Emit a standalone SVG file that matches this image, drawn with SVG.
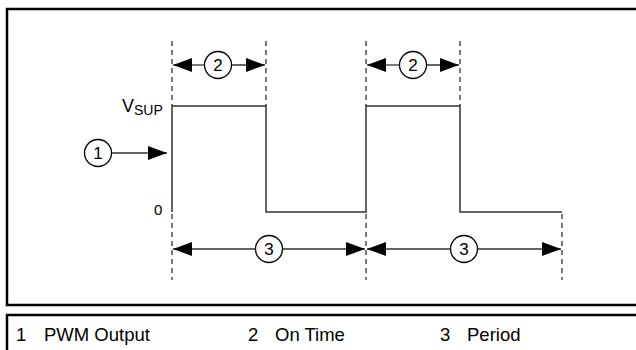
<svg xmlns="http://www.w3.org/2000/svg" width="636" height="350" viewBox="0 0 636 350">
<style>
.frame{fill:none;stroke:#000;stroke-width:2.5}
.dash{stroke:#222;stroke-width:1.2;stroke-dasharray:5,4;fill:none}
.wave{stroke:#333;stroke-width:1.5;fill:none}
.dim{stroke:#333;stroke-width:1.3;fill:none}
.callout{fill:#fff;stroke:#000;stroke-width:1.3}
.num{font-family:"Liberation Sans",Arial,sans-serif;font-size:17px;fill:#000;text-anchor:middle}
.lbl{font-family:"Liberation Sans",Arial,sans-serif;fill:#000}
.leg{font-family:"Liberation Sans",Arial,sans-serif;font-size:18.5px;fill:#000}
</style>
<defs>
<marker id="ah" markerWidth="19" markerHeight="14" refX="19" refY="7" orient="auto-start-reverse" markerUnits="userSpaceOnUse">
<path d="M0,0 L19,7 L0,14 Z" fill="#000"/>
</marker>
</defs>
<rect class="frame" x="7" y="9" width="640" height="296"/>
<rect class="frame" x="7" y="315" width="640" height="50"/>
<g id="guides">
<line class="dash" x1="172" y1="41" x2="172" y2="106"/>
<line class="dash" x1="266" y1="41" x2="266" y2="106"/>
<line class="dash" x1="366" y1="41" x2="366" y2="106"/>
<line class="dash" x1="460" y1="41" x2="460" y2="106"/>
<line class="dash" x1="172" y1="214" x2="172" y2="280"/>
<line class="dash" x1="366" y1="214" x2="366" y2="280"/>
<line class="dash" x1="562" y1="214" x2="562" y2="280"/>
</g>
<g id="waveform">
<path class="wave" d="M172,212 L172,106 L266,106 L266,212 L366,212 L366,106 L460,106 L460,212 L562,212"/>
</g>
<g id="labels">
<text class="lbl" x="122" y="112" style="font-size:18px">V<tspan style="font-size:14px" dy="3">SUP</tspan></text>
<text class="lbl" x="154" y="215" style="font-size:15px">0</text>
</g>
<g id="connectors">
<line class="dim" x1="111" y1="153" x2="167" y2="153" marker-end="url(#ah)"/>
<line class="dim" x1="173" y1="65" x2="205" y2="65" marker-start="url(#ah)"/>
<line class="dim" x1="231" y1="65" x2="265" y2="65" marker-end="url(#ah)"/>
<line class="dim" x1="367" y1="65" x2="399" y2="65" marker-start="url(#ah)"/>
<line class="dim" x1="426" y1="65" x2="459" y2="65" marker-end="url(#ah)"/>
<line class="dim" x1="173" y1="249" x2="255" y2="249" marker-start="url(#ah)"/>
<line class="dim" x1="282" y1="249" x2="365" y2="249" marker-end="url(#ah)"/>
<line class="dim" x1="367" y1="249" x2="450" y2="249" marker-start="url(#ah)"/>
<line class="dim" x1="477" y1="249" x2="561" y2="249" marker-end="url(#ah)"/>
</g>
<g id="callout1"><circle class="callout" cx="98" cy="153" r="13.5"/><text class="num" x="98" y="159">1</text></g>
<g id="callout2a"><circle class="callout" cx="218" cy="65" r="13.5"/><text class="num" x="218" y="71">2</text></g>
<g id="callout2b"><circle class="callout" cx="413" cy="65" r="13.5"/><text class="num" x="413" y="71">2</text></g>
<g id="callout3a"><circle class="callout" cx="269" cy="249" r="13.5"/><text class="num" x="269" y="255">3</text></g>
<g id="callout3b"><circle class="callout" cx="464" cy="249" r="13.5"/><text class="num" x="464" y="255">3</text></g>
<g id="legend">
<text class="leg" x="16" y="341">1</text>
<text class="leg" x="44" y="341">PWM Output</text>
<text class="leg" x="248" y="341">2</text>
<text class="leg" x="275" y="341">On Time</text>
<text class="leg" x="440" y="341">3</text>
<text class="leg" x="467" y="341">Period</text>
</g>
</svg>
